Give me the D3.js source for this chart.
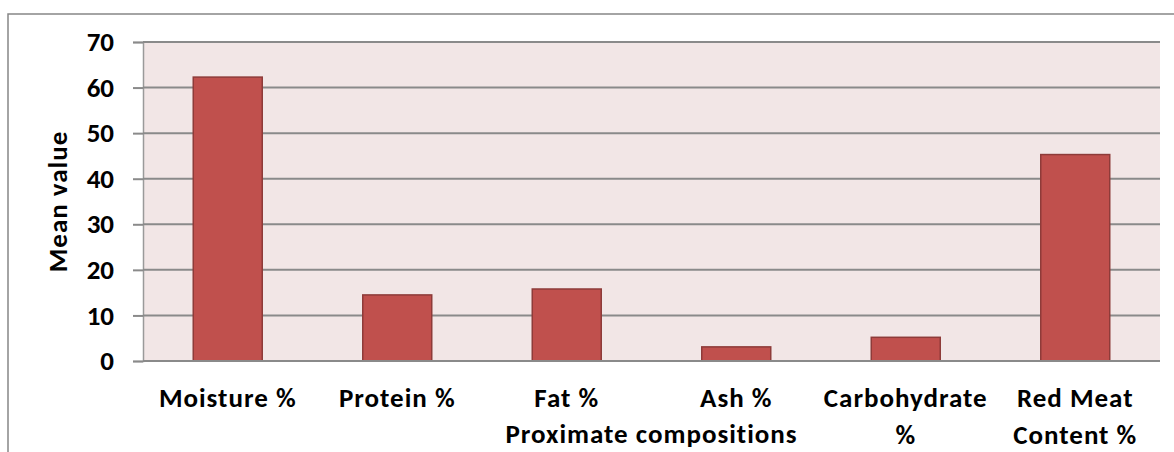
<!DOCTYPE html>
<html>
<head>
<meta charset="utf-8">
<script src="https://cdn.jsdelivr.net/npm/d3@7"></script>
<style>
  html, body { margin: 0; padding: 0; background: #fff; }
  svg { display: block; }
  text { font-family: Carlito, Calibri, Lato, sans-serif; font-weight: bold; fill: #000; }
  .lbl { letter-spacing: 1px; }
</style>
</head>
<body>
<script>
const categories = ["Moisture %", "Protein %", "Fat %", "Ash %", "Carbohydrate %", "Red Meat Content %"];
const meanValues = [62.3, 14.5, 15.8, 3.1, 5.2, 45.3];
const yTicks = [0, 10, 20, 30, 40, 50, 60, 70];
const xTitle = "Proximate compositions";
const yTitle = "Mean value";

const W = 1174, H = 452;
const FS = "27px";
const plot = { left: 143, right: 1160, top: 42, bottom: 361 };

const svg = d3.select("body").append("svg").attr("width", W).attr("height", H);

// outer chart frame
svg.append("rect").attr("x", 8).attr("y", 14).attr("width", W + 10).attr("height", H + 10)
  .attr("fill", "#fff").attr("stroke", "#868686").attr("stroke-width", 1.5);

const x = d3.scaleBand().domain(categories).range([plot.left, plot.right]).paddingInner(0.593).paddingOuter(0.2965);
const y = d3.scaleLinear().domain([0, 70]).range([plot.bottom, plot.top]);

// plot background
svg.append("rect").attr("x", plot.left).attr("y", plot.top)
  .attr("width", plot.right - plot.left).attr("height", plot.bottom - plot.top)
  .attr("fill", "#F2E6E6");

// gridlines + ticks
const yAxis = d3.axisLeft(y).tickValues(yTicks).tickSize(10).tickPadding(19).tickFormat(d3.format("d"));
const yg = svg.append("g").attr("transform", `translate(${plot.left},0)`).call(yAxis);
yg.select(".domain").attr("stroke", "#9a9a9a").attr("stroke-width", 1.5);
yg.selectAll(".tick line").attr("stroke", "#8a8a8a").attr("stroke-width", 2);
yg.selectAll(".tick text").style("font-size", FS);

svg.append("g").selectAll("line").data(yTicks).join("line")
  .attr("x1", plot.left).attr("x2", plot.right)
  .attr("y1", d => y(d)).attr("y2", d => y(d))
  .attr("stroke", "#8a8a8a").attr("stroke-width", 2);

// bars
svg.append("g").selectAll("rect").data(categories).join("rect")
  .attr("x", d => x(d)).attr("width", x.bandwidth())
  .attr("y", (d, i) => y(meanValues[i]))
  .attr("height", (d, i) => y(0) - y(meanValues[i]))
  .attr("fill", "#C0504D").attr("stroke", "#8E3B39").attr("stroke-width", 1.5);

// baseline
svg.append("line").attr("x1", plot.left).attr("x2", plot.right)
  .attr("y1", y(0)).attr("y2", y(0)).attr("stroke", "#8a8a8a").attr("stroke-width", 2);

// category labels with wrapping
const step = x.step();
const xl = svg.append("g");
categories.forEach(c => {
  const cx = x(c) + x.bandwidth() / 2;
  const t = xl.append("text").attr("class", "lbl").attr("text-anchor", "middle").attr("x", cx).attr("y", 407).style("font-size", FS);
  const words = c.split(" ");
  let line = [];
  let tspan = t.append("tspan").attr("x", cx).attr("dy", 0);
  words.forEach(w => {
    line.push(w);
    tspan.text(line.join(" "));
    if (tspan.node().getComputedTextLength() > step - 2 && line.length > 1) {
      line.pop();
      tspan.text(line.join(" "));
      line = [w];
      tspan = t.append("tspan").attr("x", cx).attr("dy", 37).text(w);
    }
  });
});

// axis titles
svg.append("text").attr("class", "lbl").attr("x", (plot.left + plot.right) / 2).attr("y", 443)
  .attr("text-anchor", "middle").style("font-size", FS).text(xTitle);
svg.append("text").attr("class", "lbl").attr("transform", `translate(67,${(plot.top + plot.bottom) / 2}) rotate(-90)`)
  .attr("text-anchor", "middle").style("font-size", FS).text(yTitle);
</script>
</body>
</html>
